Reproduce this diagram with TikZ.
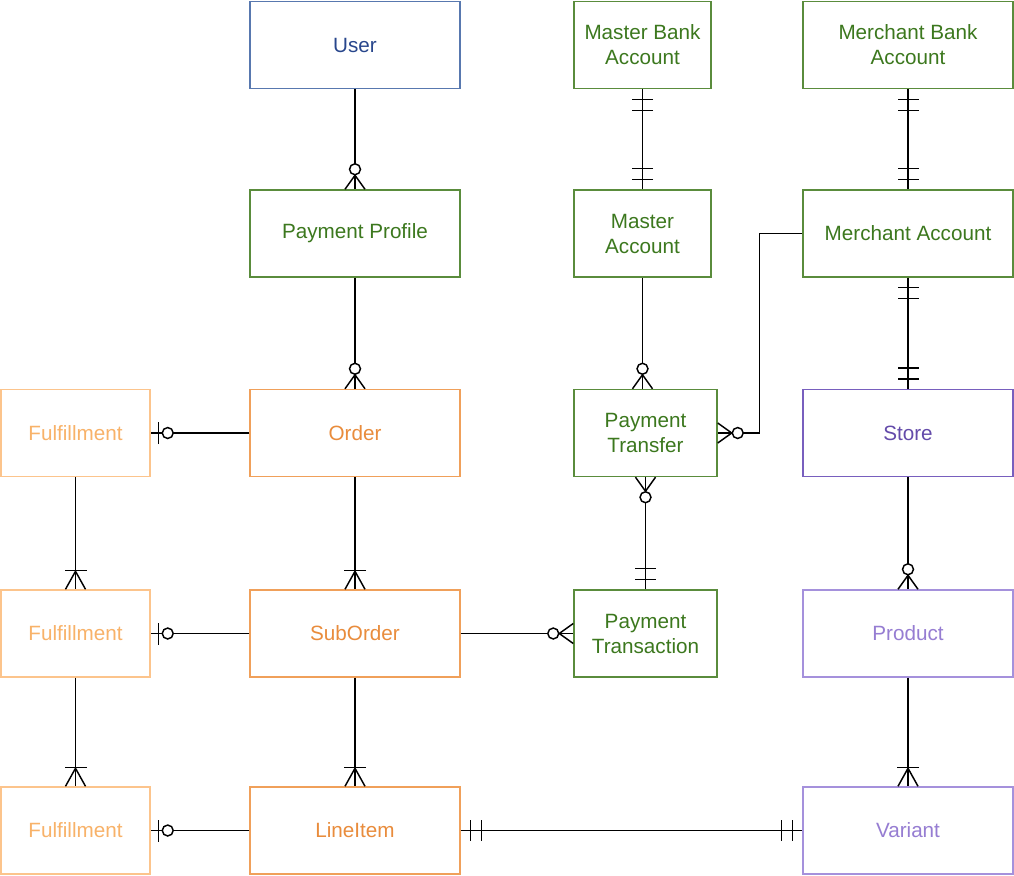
\documentclass[tikz,border=0pt]{standalone}
\usepackage{fontspec}
\setmainfont{Liberation Sans}
\definecolor{userblue}{RGB}{88,120,175}
\definecolor{usertext}{RGB}{40,70,140}
\definecolor{paygreen}{RGB}{90,140,60}
\definecolor{paytext}{RGB}{60,120,30}
\definecolor{orderorange}{RGB}{240,160,90}
\definecolor{ordertext}{RGB}{233,140,60}
\definecolor{fulorange}{RGB}{252,196,140}
\definecolor{fultext}{RGB}{248,178,105}
\definecolor{storepurple}{RGB}{120,95,190}
\definecolor{storetext}{RGB}{100,75,170}
\definecolor{prodpurple}{RGB}{165,145,220}
\definecolor{prodtext}{RGB}{150,125,210}
\usetikzlibrary{decorations.markings}

\begin{document}
\begin{tikzpicture}[x=0.75pt, y=-0.75pt,
			entity/.style={draw, line width=1.1pt, fill=white,
				minimum width=157.5pt, minimum height=65.25pt, align=center,
				font=\fontsize{15.5}{18.75}\selectfont},
			narrow/.style={minimum width=102.75pt},
			mid/.style={minimum width=107.25pt},
			ful/.style={entity, minimum width=111.75pt, draw=fulorange, text=fultext},
			rel/.style={line width=1.1pt},
			crowzero/.style={postaction={decorate, decoration={markings,
				mark=at position 1 with {
					\draw[line width=1.1pt] (-14,0) -- (0,10) (-14,0) -- (0,-10);
					\draw[line width=1.1pt, fill=white] (-20,0) circle (4.1pt);}}}},
			crowone/.style={postaction={decorate, decoration={markings,
				mark=at position 1 with {
					\draw[line width=1.1pt] (-18,0) -- (0,10) (-18,0) -- (0,-10);
					\draw[line width=1.1pt] (-19,-11) -- (-19,11);}}}},
			zeroone/.style={postaction={decorate, decoration={markings,
				mark=at position 1 with {
					\draw[line width=1.1pt] (-8,-11) -- (-8,11);
					\draw[line width=1.1pt, fill=white] (-17,0) circle (4.1pt);}}}},
			oneend/.style={postaction={decorate, decoration={markings,
				mark=at position 1 with {
					\draw[line width=1.1pt] (-10,-10.5) -- (-10,10.5) (-21,-10.5) -- (-21,10.5);}}}},
			onestart/.style={postaction={decorate, decoration={markings,
				mark=at position 0 with {
					\draw[line width=1.1pt] (10,-10.5) -- (10,10.5) (21,-10.5) -- (21,10.5);}}}}
		]
			\useasboundingbox (0,0) rectangle (1014,875);
			% top rows
			\node[entity, draw=userblue, text=usertext] (user) at (355,45) {User};
			\node[entity, draw=paygreen, text=paytext] (profile) at (355,233.5) {Payment Profile};
			\node[entity, narrow, draw=paygreen, text=paytext] (mbank) at (642.5,45) {Master Bank\\Account};
			\node[entity, draw=paygreen, text=paytext] (merbank) at (908,45) {Merchant Bank\\Account};
			\node[entity, narrow, draw=paygreen, text=paytext] (macct) at (642.5,233.5) {Master\\Account};
			\node[entity, draw=paygreen, text=paytext] (meracct) at (908,233.5) {Merchant Account};
			% order rows
			\node[ful] (ful1) at (75.5,433) {Fulfillment};
			\node[entity, draw=orderorange, text=ordertext] (order) at (355,433) {Order};
			\node[entity, mid, draw=paygreen, text=paytext] (ptransfer) at (645.5,433) {Payment\\Transfer};
			\node[entity, draw=storepurple, text=storetext] (store) at (908,433) {Store};
			\node[ful] (ful2) at (75.5,633.5) {Fulfillment};
			\node[entity, draw=orderorange, text=ordertext] (suborder) at (355,633.5) {SubOrder};
			\node[entity, mid, draw=paygreen, text=paytext] (ptrans) at (645.5,633.5) {Payment\\Transaction};
			\node[entity, draw=prodpurple, text=prodtext] (product) at (908,633.5) {Product};
			\node[ful] (ful3) at (75.5,830.5) {Fulfillment};
			\node[entity, draw=orderorange, text=ordertext] (lineitem) at (355,830.5) {LineItem};
			\node[entity, draw=prodpurple, text=prodtext] (variant) at (908,830.5) {Variant};
			% relations
			\draw[rel, crowzero] (user.south) -- (profile.north);
			\draw[rel, crowzero] (profile.south) -- (order.north);
			\draw[rel, zeroone] (order.west) -- (ful1.east);
			\draw[rel, crowone] (order.south) -- (suborder.north);
			\draw[rel, zeroone] (suborder.west) -- (ful2.east);
			\draw[rel, crowone] (suborder.south) -- (lineitem.north);
			\draw[rel, zeroone] (lineitem.west) -- (ful3.east);
			\draw[rel, crowone] (ful1.south) -- (ful2.north);
			\draw[rel, crowone] (ful2.south) -- (ful3.north);
			\draw[rel, onestart, oneend] (lineitem.east) -- (variant.west);
			\draw[rel, crowzero] (suborder.east) -- (ptrans.west);
			\draw[rel, onestart, oneend] (mbank.south) -- (macct.north);
			\draw[rel, crowzero] (macct.south) -- (macct.south |- ptransfer.north);
			\draw[rel, crowzero] (meracct.west) -- ++(-43,0) |- (ptransfer.east);
			\draw[rel, onestart, crowzero] (ptrans.north) -- (ptransfer.south);
			\draw[rel, onestart, oneend] (merbank.south) -- (meracct.north);
			\draw[rel, onestart, oneend] (meracct.south) -- (store.north);
			\draw[rel, crowzero] (store.south) -- (product.north);
			\draw[rel, crowone] (product.south) -- (variant.north);
		\end{tikzpicture}
\end{document}
